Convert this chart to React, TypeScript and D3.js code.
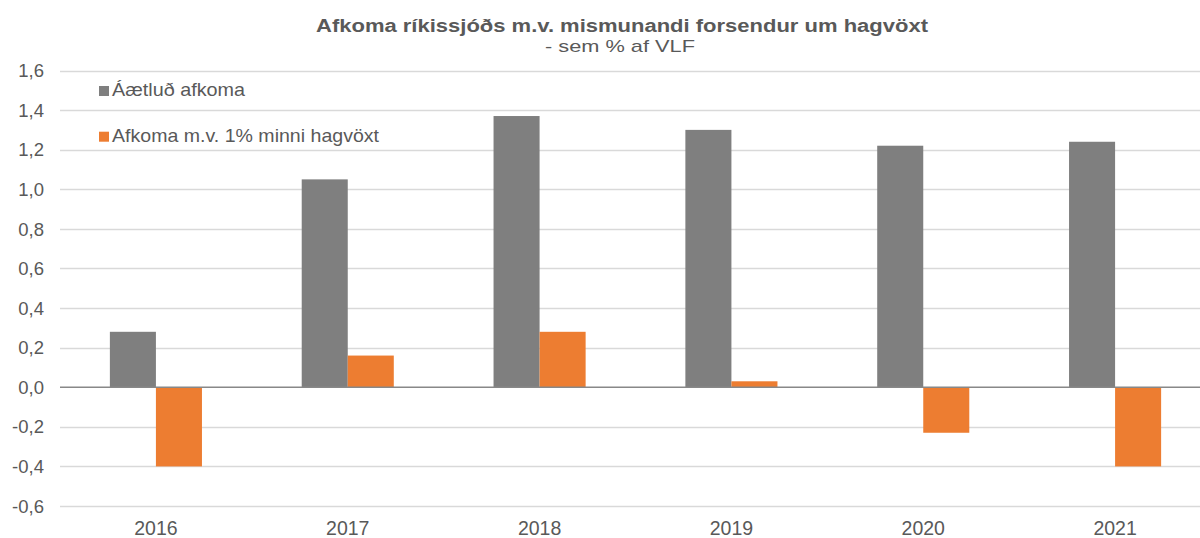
import * as d3 from 'd3';
import React, { useRef, useEffect } from 'react';

const width = 1200;
const height = 538;
const margin = { top: 70.5, right: 0, bottom: 32, left: 60 };

const years = ['2016', '2017', '2018', '2019', '2020', '2021'];
const aaetlud = [0.28, 1.05, 1.37, 1.30, 1.22, 1.24];
const minni = [-0.40, 0.16, 0.28, 0.03, -0.23, -0.40];
const seriesNames = ['Áætluð afkoma', 'Afkoma m.v. 1% minni hagvöxt'];
const seriesColors = ['#7f7f7f', '#ed7d31'];
const yTicks = [-0.6, -0.4, -0.2, 0, 0.2, 0.4, 0.6, 0.8, 1.0, 1.2, 1.4, 1.6];

const textColor = '#595959';
const font = 'Arial, "Liberation Sans", sans-serif';

function App() {
    const ref = useRef(null);

    useEffect(() => {
        const svg = d3.select(ref.current);
        svg.selectAll('*').remove();

        const y = d3.scaleLinear()
            .domain([-0.6, 1.6])
            .range([506, margin.top]);

        const x0 = d3.scaleBand()
            .domain(years)
            .range([margin.left, 1211])
            .paddingInner(0.52)
            .paddingOuter(0.26);

        const x1 = d3.scaleBand()
            .domain(['0', '1'])
            .range([0, x0.bandwidth()]);

        // gridlines
        svg.append('g')
            .selectAll('line')
            .data(yTicks.filter(d => d !== 0))
            .enter()
            .append('line')
            .attr('x1', margin.left)
            .attr('x2', width)
            .attr('y1', d => Math.round(y(d)) + 0.5)
            .attr('y2', d => Math.round(y(d)) + 0.5)
            .attr('stroke', '#d9d9d9')
            .attr('stroke-width', 1.3);

        // y tick labels
        svg.append('g')
            .selectAll('text')
            .data(yTicks)
            .enter()
            .append('text')
            .attr('x', 44)
            .attr('y', d => y(d))
            .attr('dy', '0.36em')
            .attr('text-anchor', 'end')
            .attr('fill', textColor)
            .style('font-family', font)
            .style('font-size', '18.5px')
            .text(d => d3.format('.1f')(d).replace('.', ',').replace('−', '-'));

        // bars
        const series = [aaetlud, minni];
        series.forEach((vals, si) => {
            svg.append('g')
                .selectAll('rect')
                .data(vals)
                .enter()
                .append('rect')
                .attr('x', (d, i) => x0(years[i]) + x1(String(si)))
                .attr('y', d => y(Math.max(0, d)))
                .attr('width', x1.bandwidth())
                .attr('height', d => Math.abs(y(d) - y(0)))
                .attr('fill', seriesColors[si]);
        });

        // zero line
        svg.append('line')
            .attr('x1', margin.left)
            .attr('x2', width)
            .attr('y1', y(0))
            .attr('y2', y(0))
            .attr('stroke', '#888888')
            .attr('stroke-width', 1.5);

        // x labels
        svg.append('g')
            .selectAll('text')
            .data(years)
            .enter()
            .append('text')
            .attr('x', d => x0(d) + x0.bandwidth() / 2)
            .attr('y', 535)
            .attr('text-anchor', 'middle')
            .attr('fill', textColor)
            .style('font-family', font)
            .style('font-size', '19.5px')
            .text(d => d);

        // title
        svg.append('text')
            .attr('x', 316)
            .attr('y', 31.5)
            .attr('fill', textColor)
            .attr('textLength', 612)
            .attr('lengthAdjust', 'spacingAndGlyphs')
            .style('font-family', font)
            .style('font-size', '18px')
            .style('font-weight', 'bold')
            .text('Afkoma ríkissjóðs m.v. mismunandi forsendur um hagvöxt');
        svg.append('text')
            .attr('x', 545)
            .attr('y', 52)
            .attr('fill', textColor)
            .attr('textLength', 150)
            .attr('lengthAdjust', 'spacingAndGlyphs')
            .style('font-family', font)
            .style('font-size', '17px')
            .text('- sem % af VLF');

        // legend
        const legend = svg.append('g')
            .selectAll('g')
            .data(seriesNames)
            .enter()
            .append('g')
            .attr('transform', (d, i) => 'translate(99,' + (96 + i * 45.7) + ')');
        legend.append('rect')
            .attr('x', 0)
            .attr('y', -10)
            .attr('width', 10)
            .attr('height', 10)
            .attr('fill', (d, i) => seriesColors[i]);
        legend.append('text')
            .attr('x', 13)
            .attr('y', 0)
            .attr('fill', textColor)
            .attr('textLength', (d, i) => i === 0 ? 133 : 267)
            .attr('lengthAdjust', 'spacingAndGlyphs')
            .style('font-family', font)
            .style('font-size', '18.5px')
            .text(d => d);
    }, []);

    return (
        <svg ref={ref} width={width} height={height}
            style={{ position: 'absolute', left: 0, top: 0, background: '#fff' }}>
        </svg>
    );
}

export default App;
